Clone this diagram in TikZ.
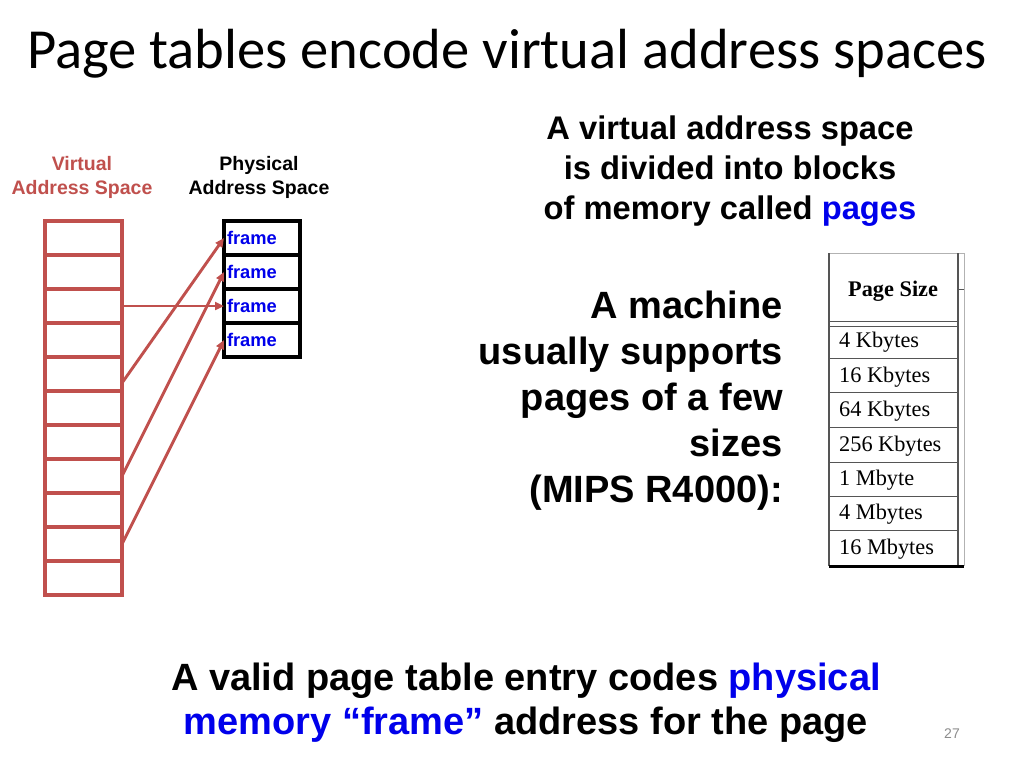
\documentclass[tikz,border=0pt]{standalone}
\usepackage{fontspec}
\setmainfont{Liberation Sans}
\newfontfamily\titlefont{Carlito}
\newfontfamily\tablefont{Liberation Serif}
\usetikzlibrary{arrows.meta}
\definecolor{vred}{HTML}{C0504D}
\definecolor{pblue}{RGB}{0,0,235}
\definecolor{pgnum}{HTML}{8C8C8C}
\definecolor{tline}{HTML}{555555}
\begin{document}
\begin{tikzpicture}[x=1pt,y=-1pt,
  vbox/.style={draw=vred, line width=3.3pt, minimum width=77pt, minimum height=34pt, inner sep=0pt, outer sep=0pt},
  pbox/.style={draw=black, line width=3.3pt, minimum width=76pt, minimum height=34pt, text width=70pt, align=left, inner xsep=3pt, inner ysep=0pt, outer sep=0pt, text=pblue, font=\bfseries\fontsize{18.3}{20}\selectfont},
  map/.style={draw=vred, line width=2.9pt, -{Triangle[length=9pt,width=8pt]}},
  heading/.style={inner sep=0pt, font=\bfseries\fontsize{19.5}{22}\selectfont},
  bigA/.style={inner sep=0pt, font=\bfseries\fontsize{32.7}{40}\selectfont},
  bigB/.style={inner sep=0pt, font=\bfseries\fontsize{38}{46}\selectfont},
  tabtxt/.style={inner sep=0pt, anchor=base west, font=\tablefont\fontsize{22.3}{26}\selectfont}
]
\useasboundingbox[fill=white] (0,0) rectangle (1024,768);

% title
\node[inner sep=0pt, anchor=base west, font=\titlefont\fontsize{56.6}{60}\selectfont] (title) at (27,68) {Page tables encode virtual address spaces};

% headings
\node[heading, text=vred, anchor=base] (vh1) at (82,170) {Virtual};
\node[heading, text=vred, anchor=base] (vh2) at (82,194) {Address Space};
\node[heading, anchor=base] (ph1) at (259,170) {Physical};
\node[heading, anchor=base] (ph2) at (259,194) {Address Space};

% virtual address space
\foreach \i in {1,...,11} {
  \node[vbox] (v\i) at (83.5,{238+34*(\i-1)}) {};
}

% physical address space
\node[pbox] (p1) at (262,238) {frame};
\node[pbox] (p2) at (262,272) {frame};
\node[pbox] (p3) at (262,306) {frame};
\node[pbox] (p4) at (262,340) {frame};

% mappings
\draw[map] (v3.east) -- (p3.west);
\draw[map] ([yshift=-9pt]v5.east) -- (p1.west);
\draw[map] (v8.east) -- (p2.west);
\draw[map] (v10.east) -- (p4.west);

% top right text
\node[bigA, anchor=base] (t1) at (730,139) {A virtual address space};
\node[bigA, anchor=base] (t2) at (730,179) {is divided into blocks};
\node[bigA, anchor=base] (t3) at (730,219) {of memory called \textcolor{pblue}{pages}};

% machine text
\node[bigB, anchor=base east] (m1) at (783,318) {A machine};
\node[bigB, anchor=base east] (m2) at (783,364) {usually supports};
\node[bigB, anchor=base east] (m3) at (783,410) {pages of a few};
\node[bigB, anchor=base east] (m4) at (783,456) {sizes};
\node[bigB, anchor=base east] (m5) at (783,502) {(MIPS R4000):};

% table
\draw[gray!60, line width=1pt] (829,253) -- (964,253);
\draw[tline, line width=1.2pt] (829,253) -- (829,566);
\draw[tline, line width=1.5pt] (958,253) -- (958,566);
\draw[gray!60, line width=1pt] (964,253) -- (964,566);
\draw[tline, line width=1pt] (958,289) -- (964,289);
\draw[tline, line width=1pt] (829,321) -- (958,321);
\draw[tline, line width=1pt] (829,326) -- (958,326);
\foreach \yy in {358,392,427,462,496,530} {
  \draw[tline, line width=1pt] (829,\yy) -- (958,\yy);
}
\draw[black, line width=3pt] (829,566) -- (964,566);
\node[tabtxt, font=\tablefont\bfseries\fontsize{22.3}{26}\selectfont] (th) at (848,296) {Page Size};
\node[tabtxt] (r1) at (839,347) {4 Kbytes};
\node[tabtxt] (r2) at (839,382) {16 Kbytes};
\node[tabtxt] (r3) at (839,416) {64 Kbytes};
\node[tabtxt] (r4) at (839,451) {256 Kbytes};
\node[tabtxt] (r5) at (839,485) {1 Mbyte};
\node[tabtxt] (r6) at (839,519) {4 Mbytes};
\node[tabtxt] (r7) at (839,554) {16 Mbytes};

% bottom text
\node[bigB, anchor=base] (b1) at (526,690) {A valid page table entry codes \textcolor{pblue}{physical}};
\node[bigB, anchor=base] (b2) at (526,734) {\textcolor{pblue}{memory “frame”} address for the page};

% page number
\node[inner sep=0pt, anchor=base, text=pgnum, font=\fontsize{14}{16}\selectfont] (pn) at (952,738) {27};
\end{tikzpicture}
\end{document}
